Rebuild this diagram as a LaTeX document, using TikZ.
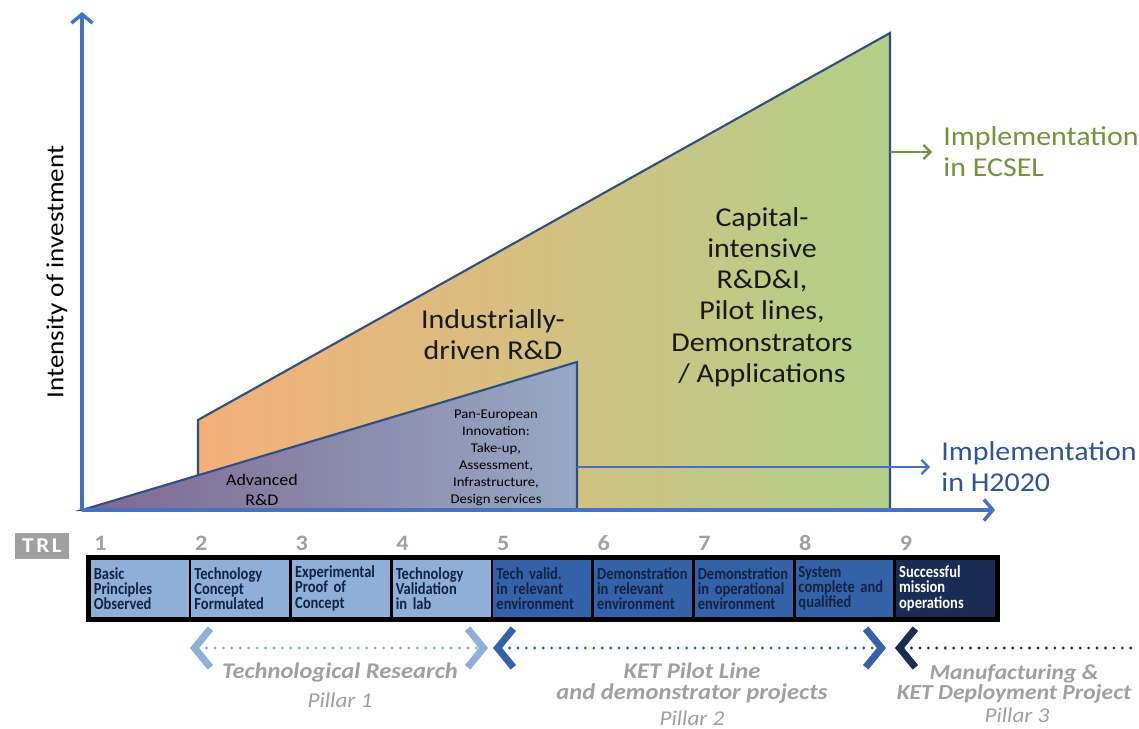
\documentclass[tikz,border=0pt]{standalone}
\usepackage{fontspec}
\setmainfont{Carlito}[FakeStretch=1.1]
\newfontfamily\boxfont{Carlito}[FakeStretch=0.86]
\usetikzlibrary{arrows.meta, positioning}
\definecolor{axisblue}{RGB}{68,114,196}
\definecolor{edgeblue}{RGB}{47,79,128}
\definecolor{labelblue}{RGB}{47,85,151}
\definecolor{ecselgreen}{RGB}{118,146,60}
\definecolor{trllight}{RGB}{143,175,216}
\definecolor{trlmid}{RGB}{52,98,168}
\definecolor{trldark}{RGB}{24,44,84}
\definecolor{trltext}{RGB}{18,34,68}
\definecolor{pillargrey}{RGB}{160,160,160}
\definecolor{orangefill}{RGB}{245,176,122}
\definecolor{tanfill}{RGB}{218,190,126}
\definecolor{greenfill}{RGB}{178,208,136}
\definecolor{purplefill}{RGB}{126,104,146}
\definecolor{slatefill}{RGB}{150,168,196}
\tikzset{chev/.tip={Straight Barb[length=9pt, width=22pt, line width=4pt]}}

\begin{document}
\begin{tikzpicture}[x=0.02cm, y=-0.02cm, semithick,
    axis/.style={draw=axisblue, line width=2pt, -{Straight Barb[length=5pt, width=12pt]}},
    outline/.style={draw=edgeblue, line width=1.2pt},
    biglabel/.style={font=\fontsize{15.5}{17.8}\selectfont, align=center, text=black!90},
    implabel/.style={font=\fontsize{15.5}{17.6}\selectfont, align=left, anchor=west},
    trlbox/.style={draw=black, line width=1.6pt, anchor=north west, minimum height=1.2cm,
        text width=1.86cm, inner xsep=2.5pt, align=left, font=\boxfont\fontsize{9.6}{8.6}\selectfont\bfseries},
    trlnum/.style={anchor=south west, text=pillargrey, font=\fontsize{12.5}{12}\selectfont\bfseries},
    pillar/.style={chev-chev, dash pattern=on 0pt off 4.8pt, line cap=round, line width=1.8pt},
    pillartext/.style={text=pillargrey, align=center, font=\fontsize{12.7}{11.5}\selectfont\bfseries\itshape},
    pillarsub/.style={text=pillargrey, font=\fontsize{12}{12}\selectfont\itshape}]
    \useasboundingbox (0,0) rectangle (1139,729);

    \coordinate (o) at (82,510);
    \coordinate (ytop) at (82,12);
    \coordinate (xend) at (995,510);
    \shadedraw[outline, left color=orangefill, middle color=tanfill, right color=greenfill]
        (198,510) -- (198,420) -- (890,33) -- (890,510) -- cycle;
    \shadedraw[outline, left color=purplefill, right color=slatefill]
        (o) -- (577,362) -- (577,510) -- cycle;
    \draw[axis] (o) -- (ytop);
    \draw[axis] (o) -- (xend);

    \coordinate (h0) at (577,467);
    \coordinate (h1) at (930,467);
    \coordinate (e0) at (890,152);
    \coordinate (e1) at (932,152);
    \draw[axisblue, line width=1.3pt, -{Straight Barb[length=4pt, width=8pt]}] (h0) -- (h1);
    \draw[ecselgreen, line width=1.3pt, -{Straight Barb[length=4pt, width=8pt]}] (e0) -- (e1);
    \node[implabel, text=labelblue, right=0.1cm of h1] (h2020) {Implementation\\in H2020};
    \node[implabel, text=ecselgreen, right=0.1cm of e1] (ecsel) {Implementation\\in ECSEL};

    \node[rotate=90, font=\fontsize{14}{16}\selectfont] (int) at (57,272) {Intensity of investment};
    \node[biglabel] (ind) at (493,335) {Industrially-\\driven R\&D};
    \node[biglabel] (cap) at (762,297) {Capital-\\intensive\\R\&D\&I,\\Pilot lines,\\Demonstrators\\/ Applications};
    \node[align=center, font=\fontsize{9.3}{11.3}\selectfont] (adv) at (262,490) {Advanced\\R\&D};
    \node[align=center, font=\fontsize{7.6}{9.75}\selectfont] (pan) at (496,458)
        {Pan-European\\Innovation:\\Take-up,\\Assessment,\\Infrastructure,\\Design services};

    \node[fill=pillargrey, text=white, minimum width=1.1cm, minimum height=0.4cm,
        font=\fontsize{12}{12}\selectfont\bfseries] (trl) at (42,546) {T\hspace{1.5pt}R\hspace{1.5pt}L};
    \foreach \i/\col/\tcol/\txt in {
        1/trllight/trltext/{Basic\\Principles\\Observed},
        2/trllight/trltext/{Technology\\Concept\\Formulated},
        3/trllight/trltext/{Experimental\\Proof of\\Concept},
        4/trllight/trltext/{Technology\\Validation\\in lab},
        5/trlmid/trltext/{Tech valid.\\in relevant\\environment},
        6/trlmid/trltext/{Demonstration\\in relevant\\environment},
        7/trlmid/trltext/{Demonstration\\in operational\\environment},
        8/trlmid/trltext/{System\\complete and\\qualified},
        9/trldark/white/{Successful\\mission\\operations}} {
        \node[trlbox, fill=\col, text=\tcol] (t\i) at ({88+100.67*(\i-1)},557) {\txt};
        \node[trlnum] (n\i) at (t\i.north west) {\i};
    }
    \draw[line width=2.2pt] (t1.north west) rectangle (t9.south east);

    \coordinate (p1a) at (190,648);
    \coordinate (p1b) at (488,648);
    \coordinate (p2a) at (493,648);
    \coordinate (p2b) at (886,648);
    \coordinate (p3a) at (895,648);
    \coordinate (p3b) at (1139,648);
    \draw[pillar, trllight] (p1a) -- (p1b);
    \draw[pillar, trlmid] (p2a) -- (p2b);
    \draw[pillar, trldark, chev-] (p3a) -- (p3b);

    \node[pillartext] (r1) at (340,673) {Technological Research};
    \node[pillarsub] (s1) at (340,700) {Pillar 1};
    \node[pillartext] (r2) at (692,683) {KET Pilot Line\\and demonstrator projects};
    \node[pillarsub] (s2) at (692,718) {Pillar 2};
    \node[pillartext, font=\fontsize{12.2}{11.3}\selectfont\bfseries\itshape] (r3) at (1014,684) {Manufacturing \&\\KET Deployment Project};
    \node[pillarsub] (s3) at (1017,715) {Pillar 3};
\end{tikzpicture}
\end{document}
